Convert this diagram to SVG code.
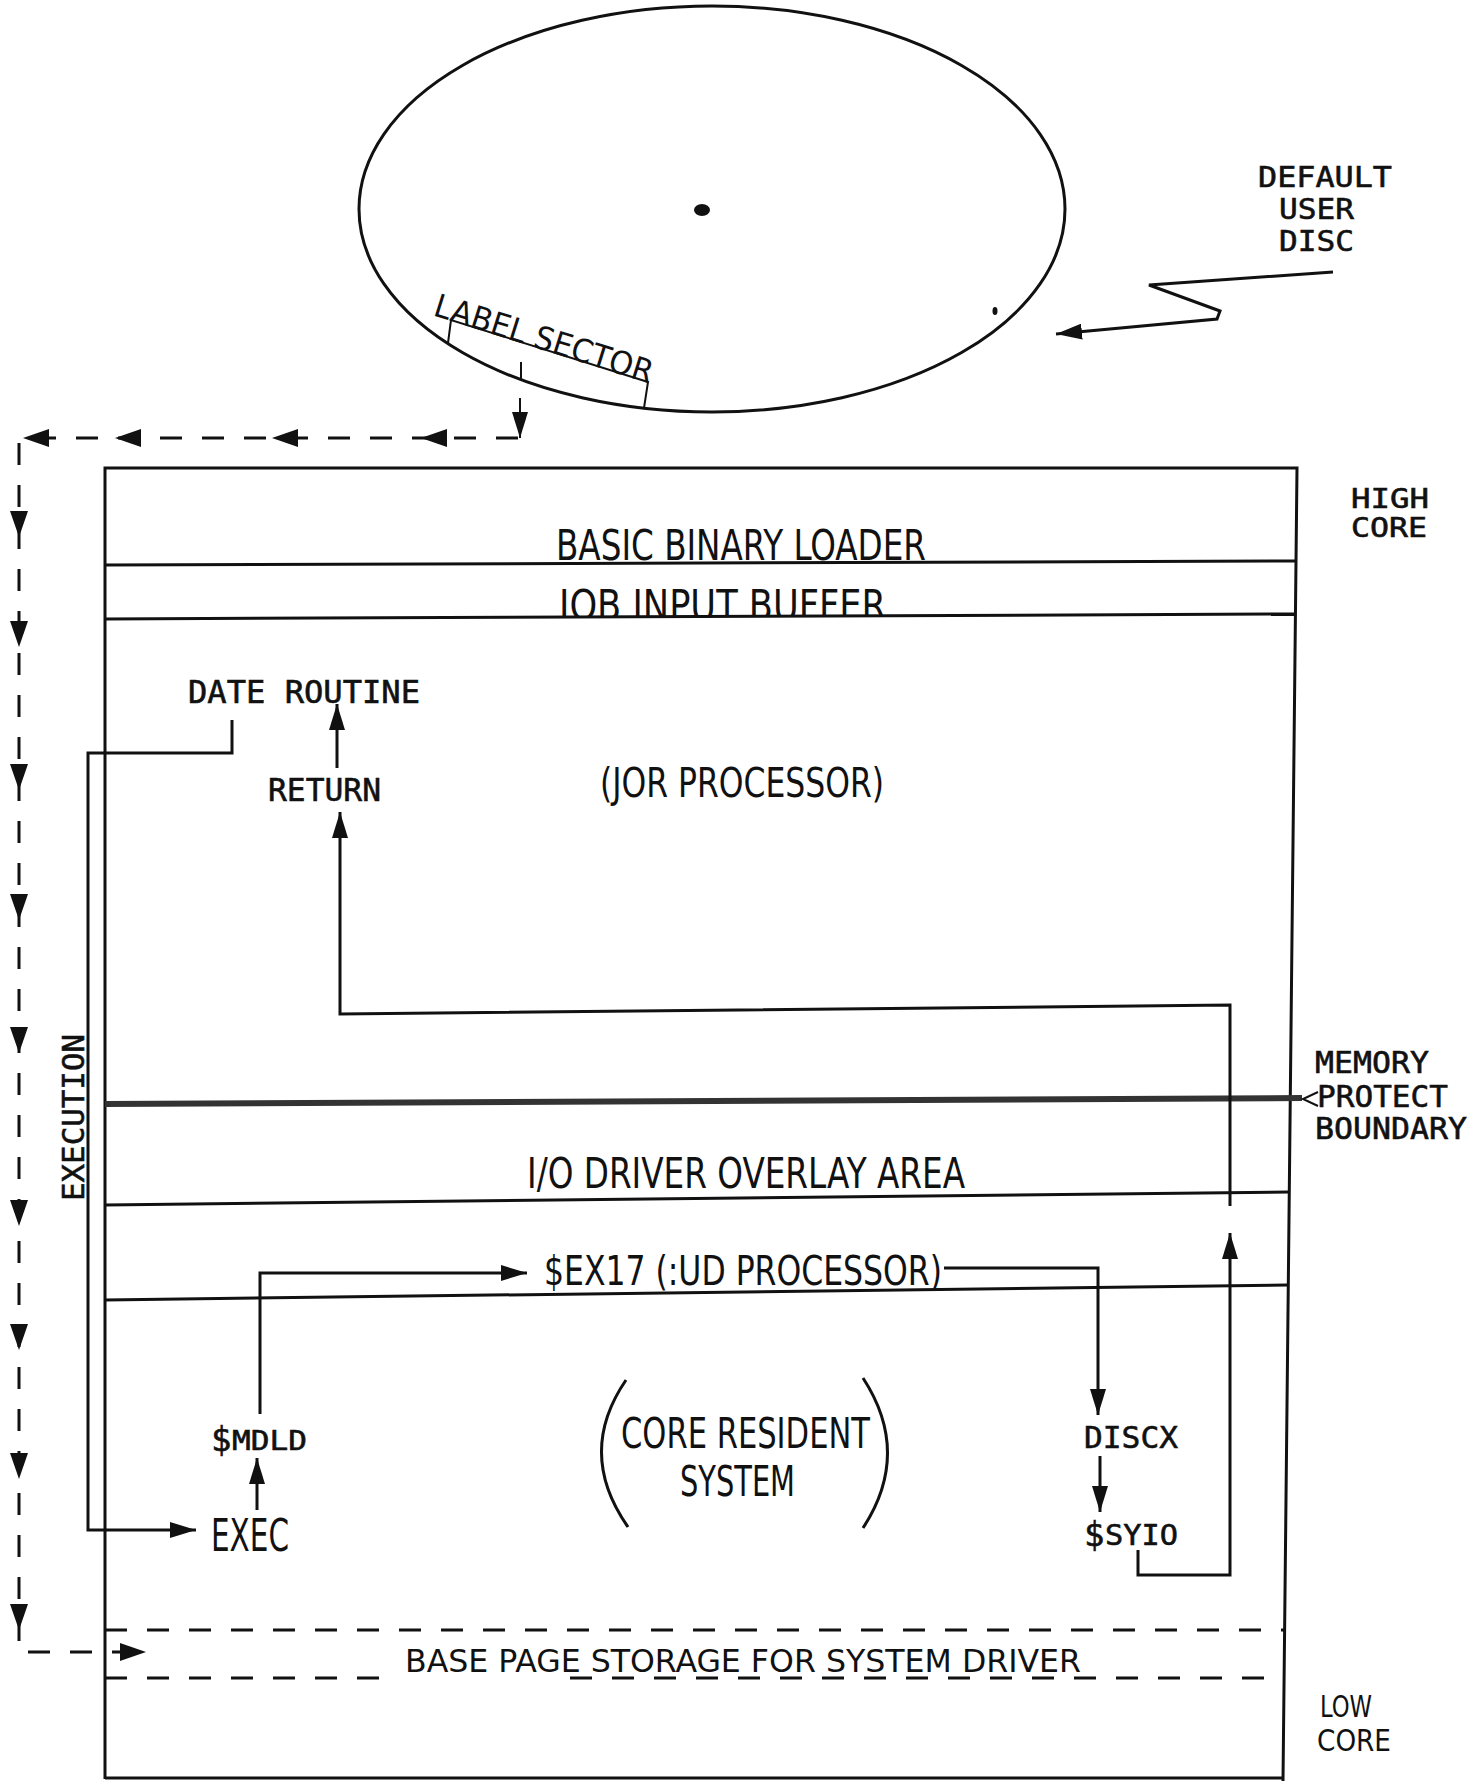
<svg xmlns="http://www.w3.org/2000/svg" width="1474" height="1781" viewBox="0 0 1474 1781">
<style>
.ln{stroke:#111;stroke-width:3;fill:none}
.thin{stroke:#111;stroke-width:2;fill:none}
.conn{stroke:#111;stroke-width:3;fill:none}
.dash{stroke:#111;stroke-width:3;fill:none;stroke-dasharray:22 20}
.cond{font-family:"Liberation Sans Narrow","DejaVu Sans Condensed","Liberation Sans",sans-serif;fill:#111}
.mono{font-family:"DejaVu Sans Mono","Liberation Mono",monospace;fill:#111;stroke:#111;stroke-width:0.6}
</style>
<defs>
<marker id="arr" viewBox="0 0 26 16" refX="26" refY="8" markerWidth="26" markerHeight="16" markerUnits="userSpaceOnUse" orient="auto">
<path d="M0,0 L26,8 L0,16 z" fill="#111"/>
</marker>
<path id="dh" d="M0,0 L-26,-9 L-26,9 z" fill="#111"/>
<clipPath id="clipJob"><rect x="0" y="0" width="1474" height="616"/></clipPath>
</defs>
<rect width="1474" height="1781" fill="#fff"/>

<g id="disc">
<ellipse cx="712" cy="209" rx="353" ry="203" class="ln" stroke-width="3.5"/>
<ellipse cx="702" cy="210" rx="8" ry="6" fill="#111"/>
<ellipse cx="995" cy="311" rx="2.5" ry="4" fill="#111"/>
</g>

<g id="label-sector">
<polyline class="thin" points="448,343 451,320 648,382 644,408"/>
<line class="thin" x1="521" y1="379" x2="521" y2="362"/>
<text class="cond" x="432" y="315" font-size="32" textLength="228" lengthAdjust="spacingAndGlyphs" transform="rotate(17.5 432 315)">LABEL SECTOR</text>
</g>

<g id="default-user-disc">
<text class="mono" x="1258" y="187" font-size="29" textLength="134" lengthAdjust="spacingAndGlyphs">DEFAULT</text>
<text class="mono" x="1279" y="219" font-size="29" textLength="75" lengthAdjust="spacingAndGlyphs">USER</text>
<text class="mono" x="1279" y="251" font-size="29" textLength="75" lengthAdjust="spacingAndGlyphs">DISC</text>
</g>

<g id="memory-map">
<path class="ln" d="M105,1779 L105,468 L1297,468 L1283,1781"/>
<line class="ln" x1="105" y1="1778" x2="1284" y2="1778"/>
<line class="ln" x1="105" y1="565" x2="1296" y2="561"/>
<line class="ln" x1="105" y1="619" x2="1296" y2="614"/>
<line x1="105" y1="1104" x2="1302" y2="1098" stroke="#333" stroke-width="6"/>
<polyline class="thin" points="1318,1092 1303,1099 1318,1106"/>
<line class="ln" x1="105" y1="1205" x2="1289" y2="1192"/>
<line class="ln" x1="105" y1="1300" x2="1288" y2="1285"/>
<line class="dash" x1="105" y1="1630" x2="1285" y2="1630"/>
<line class="dash" x1="105" y1="1678" x2="385" y2="1678"/>
<line class="dash" x1="570" y1="1678" x2="1285" y2="1678"/>
</g>

<g id="high-core">
<text class="mono" x="1351" y="508" font-size="27" textLength="78" lengthAdjust="spacingAndGlyphs">HIGH</text>
<text class="mono" x="1351" y="537" font-size="27" textLength="76" lengthAdjust="spacingAndGlyphs">CORE</text>
</g>
<g id="memory-protect-boundary">
<text class="mono" x="1315" y="1073" font-size="30" textLength="114" lengthAdjust="spacingAndGlyphs">MEMORY</text>
<text class="mono" x="1317" y="1107" font-size="30" textLength="131" lengthAdjust="spacingAndGlyphs">PROTECT</text>
<text class="mono" x="1315" y="1139" font-size="30" textLength="152" lengthAdjust="spacingAndGlyphs">BOUNDARY</text>
</g>
<g id="low-core">
<text class="cond" x="1320" y="1717" font-size="31" textLength="52" lengthAdjust="spacingAndGlyphs">LOW</text>
<text class="cond" x="1317" y="1751" font-size="31" textLength="74" lengthAdjust="spacingAndGlyphs">CORE</text>
</g>

<g id="basic-binary-loader">
<text class="cond" x="556" y="560" font-size="42" textLength="370" lengthAdjust="spacingAndGlyphs">BASIC BINARY LOADER</text>
</g>
<g id="job-input-buffer">
<text class="cond" x="559" y="620" font-size="42" textLength="327" lengthAdjust="spacingAndGlyphs" clip-path="url(#clipJob)">JOB INPUT BUFFER</text>
</g>
<g id="date-routine">
<text class="mono" x="188" y="703" font-size="32" textLength="232" lengthAdjust="spacingAndGlyphs">DATE ROUTINE</text>
</g>
<g id="return">
<text class="mono" x="268" y="801" font-size="32" textLength="113" lengthAdjust="spacingAndGlyphs">RETURN</text>
</g>
<g id="jor-processor">
<text class="cond" x="600" y="797" font-size="40" textLength="284" lengthAdjust="spacingAndGlyphs">(JOR PROCESSOR)</text>
</g>
<g id="execution">
<text class="mono" font-size="31" textLength="167" lengthAdjust="spacingAndGlyphs" transform="translate(84 1201) rotate(-90)">EXECUTION</text>
</g>
<g id="io-driver-overlay">
<text class="cond" x="527" y="1188" font-size="42" textLength="438" lengthAdjust="spacingAndGlyphs">I/O DRIVER OVERLAY AREA</text>
</g>
<g id="ex17">
<text class="cond" x="544" y="1285" font-size="40" textLength="398" lengthAdjust="spacingAndGlyphs">$EX17 (:UD PROCESSOR)</text>
</g>
<g id="mdld">
<text class="mono" x="211" y="1451" font-size="34">$</text>
<text class="mono" x="232" y="1450" font-size="27" textLength="75" lengthAdjust="spacingAndGlyphs">MDLD</text>
</g>
<g id="exec">
<text class="cond" x="211" y="1551" font-size="44" textLength="78" lengthAdjust="spacingAndGlyphs">EXEC</text>
</g>
<g id="core-resident-system">
<path class="ln" d="M626,1380 Q576,1453 628,1527"/>
<path class="ln" d="M863,1378 Q912,1453 863,1528"/>
<text class="cond" x="621" y="1448" font-size="42" textLength="249" lengthAdjust="spacingAndGlyphs">CORE RESIDENT</text>
<text class="cond" x="680" y="1496" font-size="42" textLength="115" lengthAdjust="spacingAndGlyphs">SYSTEM</text>
</g>
<g id="discx">
<text class="mono" x="1084" y="1448" font-size="31" textLength="94" lengthAdjust="spacingAndGlyphs">DISCX</text>
</g>
<g id="syio">
<text class="mono" x="1084" y="1546" font-size="34">$</text>
<text class="mono" x="1105" y="1545" font-size="29" textLength="73" lengthAdjust="spacingAndGlyphs">SYIO</text>
</g>
<g id="base-page-storage">
<text class="cond" x="405" y="1672" font-size="32" textLength="676" lengthAdjust="spacingAndGlyphs">BASE PAGE STORAGE FOR SYSTEM DRIVER</text>
</g>

<g id="connectors">
<polyline class="conn" points="1333,272 1149,285 1220,311 1217,319 1056,334" stroke-width="4" marker-end="url(#arr)"/>
<line class="thin" x1="520" y1="398" x2="520" y2="438" marker-end="url(#arr)"/>
<path class="dash" d="M518,438 L19,438 L19,1652 L146,1652"/>
<use href="#dh" transform="translate(23 438) rotate(180)"/>
<use href="#dh" transform="translate(115 438) rotate(180)"/>
<use href="#dh" transform="translate(272 438) rotate(180)"/>
<use href="#dh" transform="translate(421 438) rotate(180)"/>
<use href="#dh" transform="translate(19 537) rotate(90)"/>
<use href="#dh" transform="translate(19 647) rotate(90)"/>
<use href="#dh" transform="translate(19 790) rotate(90)"/>
<use href="#dh" transform="translate(19 920) rotate(90)"/>
<use href="#dh" transform="translate(19 1053) rotate(90)"/>
<use href="#dh" transform="translate(19 1226) rotate(90)"/>
<use href="#dh" transform="translate(19 1350) rotate(90)"/>
<use href="#dh" transform="translate(19 1479) rotate(90)"/>
<use href="#dh" transform="translate(19 1630) rotate(90)"/>
<use href="#dh" transform="translate(146 1652)"/>
<polyline class="conn" points="232,720 232,753 88,753 88,1530 196,1530" marker-end="url(#arr)"/>
<line class="conn" x1="337" y1="768" x2="337" y2="704" marker-end="url(#arr)"/>
<polyline class="conn" points="1230,1206 1230,1005 340,1014 340,812" marker-end="url(#arr)"/>
<polyline class="conn" points="1138,1550 1138,1575 1230,1575 1230,1233" marker-end="url(#arr)"/>
<line class="conn" x1="257" y1="1510" x2="257" y2="1458" marker-end="url(#arr)"/>
<polyline class="conn" points="260,1414 260,1273 527,1273" marker-end="url(#arr)"/>
<polyline class="conn" points="944,1268 1098,1268 1098,1415" marker-end="url(#arr)"/>
<line class="conn" x1="1100" y1="1456" x2="1100" y2="1512" marker-end="url(#arr)"/>
</g>
</svg>
